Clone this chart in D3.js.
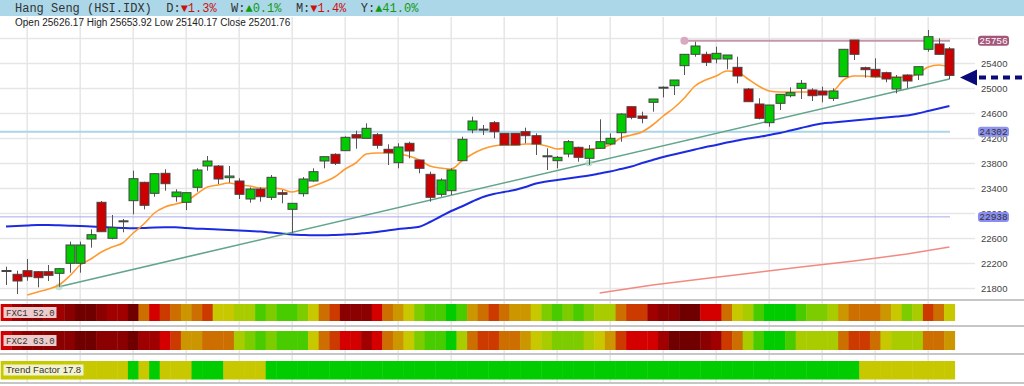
<!DOCTYPE html>
<html lang="en">
<head>
<meta charset="UTF-8">
<title>Hang Seng (HSI.IDX)</title>
<script src="https://d3js.org/d3.v7.min.js"></script>
<style>
  html, body { margin: 0; padding: 0; background: #fff; }
  svg { display: block; }
  .tick text { font-family: "Liberation Sans", Arial, sans-serif; font-size: 9.5px; fill: #444; }
  .grid line { stroke: #e6e6e6; stroke-width: 1.5; }
  .grid path { display: none; }
</style>
</head>
<body>
<div id="chart"></div>
<script>
// candles (daily OHLC)
const opens  = [22077,22019,22077,22061,22061,22035,22195,22195,22584,23171,
                22595,22872,23197,23491,23315,23635,23261,23171,23411,23752,
                23752,23565,23512,23224,23384,23251,23325,23059,23309,23512,
                23832,23939,23997,24253,24195,24253,24019,23805,24115,23848,
                23619,23299,23357,23837,24328,24339,24445,24275,24275,24301,
                24237,23912,23837,23944,24051,23875,24035,24104,24285,24701,
                24552,24771,25010,25037,25357,25539,25539,25464,25464,25331,
                24984,24744,24445,24755,24877,24995,24968,24952,24835,25181,
                25768,25325,25299,25245,24984,25208,25208,25619,25704,25626.17];
const highs  = [22141,22077,22264,22070,22168,22120,22541,22541,22739,23192,
                22968,22904,23677,23500,23629,23699,23379,23325,23715,23912,
                23768,23752,23555,23411,23411,23608,23368,23155,23576,23715,
                23901,23955,24227,24317,24435,24280,24099,24115,24141,23848,
                23661,23555,23715,24221,24541,24408,24472,24280,24280,24365,
                24275,24035,23912,24168,24061,24088,24499,24275,24595,24701,
                24621,24824,25026,25128,25539,25741,25581,25661,25528,25501,
                25000,24835,24728,24899,25010,25128,24995,25021,24995,25619,
                25768,25341,25475,25261,25208,25219,25341,25928,25795,25653.92];
const lows   = [21848,21704,21917,21811,21912,21821,22045,22045,22445,22701,
                22579,22691,22979,23059,23261,23357,23181,23048,23341,23677,
                23464,23485,23224,23165,23181,23208,23155,22675,23261,23501,
                23715,23768,23997,24029,24195,24029,23768,23715,23875,23635,
                23181,23261,23288,23837,24275,24248,24195,24088,24088,24115,
                23928,23688,23715,23891,23821,23768,24035,24088,24141,24500,
                24435,24621,24850,24888,25208,25501,25352,25395,25299,25075,
                24781,24499,24381,24648,24850,24824,24792,24771,24792,25181,
                25448,25165,25165,25091,24915,24995,25128,25581,25528,25140.17];
const closes = [22080,21912,21981,21965,22003,22109,22488,22488,22653,22701,
                22765,22875,23549,23123,23629,23469,23336,23325,23688,23832,
                23544,23592,23299,23384,23261,23571,23299,23155,23544,23661,
                23901,23795,24211,24200,24355,24083,23965,24056,23992,23715,
                23251,23528,23688,24179,24472,24342,24301,24088,24088,24237,
                24104,23915,23891,24141,23891,24019,24141,24195,24584,24531,
                24515,24824,25013,25128,25539,25672,25411,25555,25528,25192,
                24781,24515,24728,24899,24925,25075,24877,24888,24952,25619,
                25539,25293,25181,25144,25171,25112,25341,25821,25539,25201.76];

// short moving average (orange), starts at index 2
const fastMA = [null,null,21688,21736,21784,21848,21992,22168,22264,22376,
                22456,22520,22680,22824,23000,23096,23144,23192,23304,23416,
                23448,23480,23448,23432,23400,23400,23384,23336,23384,23432,
                23496,23576,23704,23800,23944,23960,23960,23944,23912,23848,
                23752,23720,23704,23832,23944,24024,24072,24088,24088,24104,
                24104,24072,24024,24040,24024,24024,24040,24088,24200,24248,
                24296,24408,24552,24680,24840,25032,25128,25192,25272,25256,
                25144,25032,24952,24936,24936,24936,24936,24936,24952,25128,
                25192,25192,25176,25176,25176,25176,25224,25336,25368,25336];

// medium moving average (blue)
const slowMA = [22784,22792,22800,22808,22808,22803,22797,22792,22784,22776,
                22768,22760,22755,22760,22768,22771,22771,22760,22749,22744,
                22736,22728,22720,22712,22704,22688,22672,22656,22648,22643,
                22643,22648,22656,22664,22680,22696,22720,22744,22760,22781,
                22856,22944,23032,23104,23184,23256,23304,23336,23368,23416,
                23472,23504,23528,23552,23576,23600,23632,23664,23704,23744,
                23800,23848,23896,23936,23976,24016,24056,24088,24128,24160,
                24192,24216,24248,24280,24320,24360,24400,24432,24448,24464,
                24480,24496,24512,24528,24544,24560,24592,24632,24672,24712];

// long moving average (salmon), read at a few candles
const longIdx = [56, 61, 66, 70, 75, 80, 85, 89];
const longMA  = [21720, 21848, 21952, 22032, 22136, 22232, 22344, 22456];

// trend line and its anchor points
const trendIdx = [5, 89];
const trendVal = [21821, 25144];
const anchorIdx = [5, 55];
const anchorVal = [21821, 23799];

// marked price levels
const levelValues = [25756, 24302, 22938];
const levelStart  = [64, -1, -1];

// price axis ticks (25800 sits under the 25756 tag, only its grid line shows)
const priceTicks = [21800, 22200, 22600, 23000, 23400, 23800, 24200, 24600, 25000, 25400, 25800];
const labelTicks = [21800, 22200, 22600, 23000, 23400, 23800, 24200, 24600, 25000, 25400];

// indicator strips (heat level per candle, 0 = weakest .. 11 = strongest)
const fxc1 = [3,2,1,1,2,2,1,0,0,1, 2,2,0,5,3,4,5,6,5,4, 7,7,8,8,10,9,10,10,9,7,
              5,4,1,1,1,3,5,6,7,9, 10,10,11,10,6,5,4,5,6,6, 7,9,10,9,10,9,8,8,5,4,
              4,2,1,1,0,0,3,3,5,7, 8,10,11,11,11,10,9,9,8,6, 5,5,5,6,7,9,8,4,5,7];
const fxc2 = [3,2,1,1,1,1,1,0,0,1, 1,1,0,2,2,3,4,6,6,5, 5,5,8,9,10,9,10,10,10,7,
              5,4,3,3,2,3,5,6,7,9, 10,10,11,8,5,4,4,5,5,6, 7,8,9,9,9,8,7,6,4,3,
              3,3,2,0,0,0,1,2,4,5, 8,10,11,11,10,8,8,8,8,5, 4,4,5,7,8,8,8,5,5,6];
const trendFactor = [0,0,0,0,0,0,0,0,0,0, 0,0,1,0,1,0,0,0,1,1, 1,0,0,0,0,1,1,1,1,1,
                     1,1,1,1,1,1,1,1,1,1, 1,1,1,1,1,1,1,1,1,1, 1,1,1,1,1,1,1,1,1,1,
                     1,1,1,1,1,1,1,1,1,1, 1,1,1,1,1,1,1,1,1,1, 1,0,0,0,0,0,0,0,0,0];

const heatColors = ['#700000','#8b0000','#a00000','#d40000','#cc3a00','#cc6e00',
                    '#cc9600','#c8c800','#a8cc00','#7ccc00','#48cc00','#00cc00'];
const trendColors = ['#c8c800', '#00cc00'];

const W = 1024, H = 386;
const svg = d3.select('#chart').append('svg').attr('width', W).attr('height', H);

const x = d3.scaleLinear().domain([0, 89]).range([6, 949.4]);
const y = d3.scaleLinear().domain([21800, 25800]).range([288, 38]);
const cw = x(1) - x(0);

// header
svg.append('rect').attr('x', 0).attr('y', 0).attr('width', W).attr('height', 16).attr('fill', '#acd7e8');
const title = svg.append('text').attr('x', 15).attr('y', 12)
  .style('font-family', '"Liberation Mono", "DejaVu Sans Mono", monospace').style('font-size', '12px').attr('fill', '#333')
  .style('white-space', 'pre');
const parts = [['Hang Seng (HSI.IDX)  D:', '#333'], ['\u25BC1.3%', '#cc1111'], ['  W:', '#333'], ['\u25B20.1%', '#109a10'],
               ['  M:', '#333'], ['\u25BC1.4%', '#cc1111'], ['  Y:', '#333'], ['\u25B241.0%', '#109a10']];
parts.forEach(p => title.append('tspan').attr('fill', p[1]).text(p[0]));

// vertical grid
const gridIdx = d3.range(2, 90, 5);
svg.append('g').selectAll('line').data(gridIdx).enter().append('line')
  .attr('x1', d => x(d)).attr('x2', d => x(d)).attr('y1', 17).attr('y2', 383)
  .attr('stroke', '#e6e6e6').attr('stroke-width', 1.5);

svg.append('text').attr('x', 15).attr('y', 26)
  .style('font-family', '"Liberation Sans", Arial, sans-serif').style('font-size', '10px').attr('fill', '#222')
  .text('Open 25626.17 High 25653.92 Low 25140.17 Close 25201.76');

// horizontal grid + price axis
svg.append('g').attr('class', 'grid').attr('transform', 'translate(975,0)')
  .call(d3.axisRight(y).tickValues(priceTicks).tickSize(-975).tickFormat(''));
const axis = svg.append('g').attr('transform', 'translate(975,0)')
  .call(d3.axisRight(y).tickValues(labelTicks).tickSize(0).tickPadding(6).tickFormat(d3.format('d')));
axis.select('.domain').remove();

// price panel
svg.append('clipPath').attr('id', 'pclip').append('rect').attr('x', 0).attr('y', 17).attr('width', 955).attr('height', 280);
const p = svg.append('g').attr('clip-path', 'url(#pclip)');

const levelColors = ['#c497ad', '#abd6e8', '#a9a9f0'];
const levelWidths = [2, 2, 1];
levelValues.forEach((v, k) => {
  p.append('line').attr('x1', levelStart[k] < 0 ? 0 : x(levelStart[k])).attr('x2', 950)
    .attr('y1', y(v)).attr('y2', y(v)).attr('stroke', levelColors[k]).attr('stroke-width', levelWidths[k]);
});
p.append('circle').attr('cx', x(levelStart[0])).attr('cy', y(levelValues[0])).attr('r', 4).attr('fill', '#d9a9bf');

const line = d3.line().defined(d => d[1] != null).x(d => x(d[0])).y(d => y(d[1]));

p.append('path').datum(longIdx.map((d, i) => [d, longMA[i]])).attr('d', line)
  .attr('fill', 'none').attr('stroke', '#f28a80').attr('stroke-width', 1.5);
p.append('path').datum(slowMA.map((d, i) => [i, d])).attr('d', line.curve(d3.curveMonotoneX))
  .attr('fill', 'none').attr('stroke', '#1d2be0').attr('stroke-width', 2);
p.append('path').datum(trendIdx.map((d, i) => [d, trendVal[i]])).attr('d', d3.line().x(d => x(d[0])).y(d => y(d[1])))
  .attr('fill', 'none').attr('stroke', '#62a58c').attr('stroke-width', 1.6);
p.selectAll('.anchor').data(anchorIdx).enter().append('circle').attr('class', 'anchor')
  .attr('cx', d => x(d)).attr('cy', (d, i) => y(anchorVal[i])).attr('r', 3.5).attr('fill', '#a8d8c0').attr('opacity', 0.7);
p.append('path').datum(fastMA.map((d, i) => [i, d])).attr('d', line.curve(d3.curveMonotoneX))
  .attr('fill', 'none').attr('stroke', '#ff9a30').attr('stroke-width', 1.6);

// candles
const idx = d3.range(opens.length);
p.append('g').selectAll('line').data(idx).enter().append('line')
  .attr('x1', i => Math.round(x(i)) + 0.5).attr('x2', i => Math.round(x(i)) + 0.5)
  .attr('y1', i => y(highs[i])).attr('y2', i => y(lows[i]))
  .attr('stroke', '#555').attr('stroke-width', 1);
p.append('g').selectAll('rect').data(idx).enter().append('rect')
  .attr('x', i => Math.round(x(i)) - 4)
  .attr('y', i => y(Math.max(opens[i], closes[i])))
  .attr('width', 9)
  .attr('height', i => Math.max(1, Math.abs(y(opens[i]) - y(closes[i]))))
  .attr('fill', i => closes[i] >= opens[i] ? '#00cc00' : '#cc0000')
  .attr('stroke', '#444').attr('stroke-width', 1);

// level labels on the axis
const labelFill = ['#a4567a', '#8e93ef', '#8a8ef2'];
const labelText = ['#fff', '#333', '#333'];
levelValues.forEach((v, k) => {
  svg.append('rect').attr('x', 978).attr('y', y(v) - 5).attr('width', 31).attr('height', 10).attr('rx', 3)
    .attr('fill', labelFill[k]);
  svg.append('text').attr('x', 993.5).attr('y', y(v) + 3.5).attr('text-anchor', 'middle')
    .style('font-family', '"Liberation Mono", monospace').style('font-size', '9.5px').attr('fill', labelText[k]).text(v);
});

// current price arrow
const ay = 77.5;
svg.append('path').attr('d', `M960,${ay} L977,${ay - 8} L977,${ay + 8} Z`).attr('fill', '#0a0a78');
svg.append('line').attr('x1', 979).attr('x2', 1022).attr('y1', ay).attr('y2', ay)
  .attr('stroke', '#0a0a78').attr('stroke-width', 4).attr('stroke-dasharray', '7,5');

// panel separators
[300, 326, 354, 383].forEach(v => {
  svg.append('line').attr('x1', 0).attr('x2', W).attr('y1', v).attr('y2', v).attr('stroke', '#c6c6c6').attr('stroke-width', 2);
});

// indicator strips
function strip(levels, colors, top, h) {
  svg.append('g').selectAll('rect').data(levels).enter().append('rect')
    .attr('x', (d, i) => x(i) - cw / 2).attr('y', top).attr('width', cw + 0.4).attr('height', h)
    .attr('fill', d => colors[d]);
}
strip(fxc1, heatColors, 304, 17);
strip(fxc2, heatColors, 331, 19);
strip(trendFactor, trendColors, 361, 18.5);

function tag(txt, top, w, font, size, fill) {
  svg.append('rect').attr('x', 3.5).attr('y', top).attr('width', w).attr('height', 11).attr('fill', fill).attr('opacity', 0.9);
  svg.append('text').attr('x', 6).attr('y', top + 8.5).style('font-family', font).style('font-size', size)
    .attr('fill', '#333').text(txt);
}
tag('FXC1 52.0', 307, 53, '"Liberation Mono", monospace', '9px', '#f6e2e2');
tag('FXC2 63.0', 335, 53, '"Liberation Mono", monospace', '9px', '#f6e2e2');
tag('Trend Factor 17.8', 364.5, 80, '"Liberation Sans", Arial, sans-serif', '9.5px', '#f6f6e6');
</script>
</body>
</html>
